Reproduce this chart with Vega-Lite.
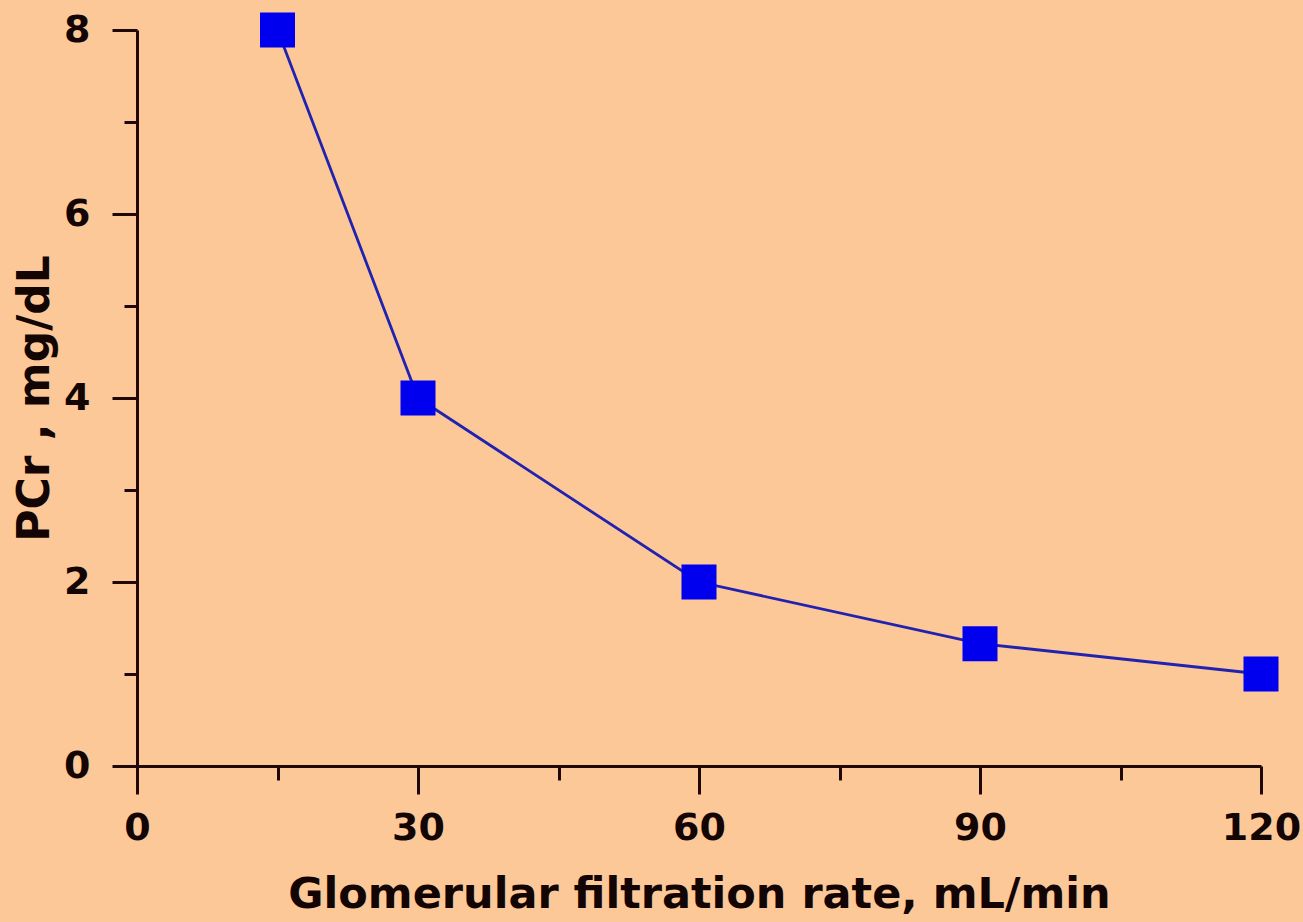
{
  "$schema": "https://vega.github.io/schema/vega-lite/v6.json",
  "width": 1124,
  "height": 736,
  "autosize": "none",
  "padding": {"left": 137, "top": 30, "right": 42, "bottom": 156},
  "background": "#FCC897",
  "config": {
    "view": {"stroke": null},
    "axis": {
      "grid": false,
      "domainColor": "#200808",
      "domainWidth": 3,
      "tickColor": "#200808",
      "tickWidth": 3,
      "labelColor": "#140505",
      "labelFont": "DejaVu Sans",
      "labelFontWeight": "bold",
      "labelFontSize": 38,
      "titleColor": "#140505",
      "titleFont": "DejaVu Sans",
      "titleFontWeight": "bold",
      "titleFontSize": 43
    }
  },
  "data": {
    "values": [
      {"gfr": 15, "pcr": 8},
      {"gfr": 30, "pcr": 4},
      {"gfr": 60, "pcr": 2},
      {"gfr": 90, "pcr": 1.33},
      {"gfr": 120, "pcr": 1}
    ]
  },
  "resolve": {"axis": {"x": "independent", "y": "independent"}},
  "layer": [
    {
      "mark": {"type": "line", "color": "#2222B0", "strokeWidth": 2.8},
      "encoding": {
        "x": {
          "field": "gfr",
          "type": "quantitative",
          "scale": {"domain": [0, 120], "nice": false},
          "axis": {
            "orient": "bottom",
            "values": [15, 45, 75, 105],
            "labels": false,
            "domain": false,
            "tickSize": 14,
            "title": null
          }
        },
        "y": {
          "field": "pcr",
          "type": "quantitative",
          "scale": {"domain": [0, 8], "nice": false},
          "axis": {
            "orient": "left",
            "values": [1, 3, 5, 7],
            "labels": false,
            "domain": false,
            "tickSize": 13,
            "title": null
          }
        }
      }
    },
    {
      "mark": {"type": "point", "shape": "square", "filled": true, "size": 1225, "color": "#0000EE", "opacity": 1},
      "encoding": {
        "x": {
          "field": "gfr",
          "type": "quantitative",
          "scale": {"domain": [0, 120], "nice": false},
          "axis": {
            "orient": "bottom",
            "values": [0, 30, 60, 90, 120],
            "format": "d",
            "tickSize": 28,
            "labelPadding": 15,
            "labelFlush": false,
            "title": "Glomerular filtration rate, mL/min",
            "titleFontSize": 43,
            "titlePadding": 26
          }
        },
        "y": {
          "field": "pcr",
          "type": "quantitative",
          "scale": {"domain": [0, 8], "nice": false},
          "axis": {
            "orient": "left",
            "values": [0, 2, 4, 6, 8],
            "format": "d",
            "tickSize": 25,
            "labelPadding": 22,
            "labelFlush": false,
            "title": "PCr , mg/dL",
            "titleFontSize": 44,
            "titlePadding": 6
          }
        }
      }
    }
  ]
}
